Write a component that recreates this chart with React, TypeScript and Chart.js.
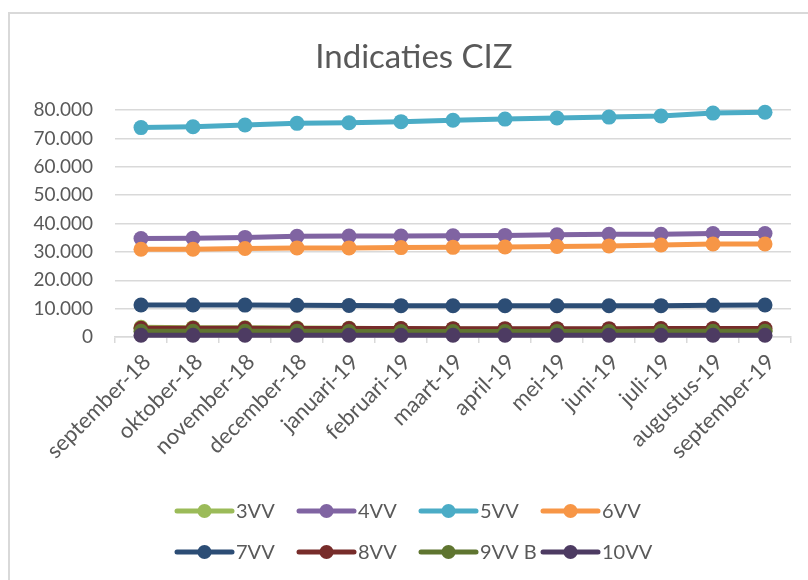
import React, { useEffect, useRef } from "react";
import { Chart, registerables } from "chart.js";

Chart.register(...registerables);

const categories = [
  "september-18", "oktober-18", "november-18", "december-18", "januari-19",
  "februari-19", "maart-19", "april-19", "mei-19", "juni-19", "juli-19",
  "augustus-19", "september-19",
];

const seriesNames = ["3VV", "4VV", "5VV", "6VV", "7VV", "8VV", "9VV B", "10VV"];

const vv3 = [3400, 3300, 3250, 3150, 3050, 2950, 2850, 2750, 2700, 2600, 2550, 2450, 2400];
const vv4 = [34700, 34800, 35100, 35500, 35600, 35600, 35700, 35800, 36000, 36200, 36200, 36500, 36500];
const vv5 = [73800, 74100, 74700, 75300, 75500, 75900, 76400, 76800, 77200, 77500, 77900, 78900, 79200];
const vv6 = [30900, 30900, 31200, 31400, 31400, 31500, 31600, 31700, 31900, 32100, 32400, 32800, 32800];
const vv7 = [11300, 11300, 11250, 11200, 11100, 11050, 11000, 11000, 11000, 11000, 11050, 11200, 11300];
const vv8 = [3100, 3050, 3050, 3000, 3000, 3000, 2950, 2950, 2950, 2950, 3000, 3000, 3000];
const vv9b = [2050, 2000, 2000, 2000, 1950, 1950, 1950, 1950, 1950, 1950, 2000, 2000, 2000];
const vv10 = [600, 600, 600, 600, 600, 600, 600, 600, 600, 600, 600, 600, 600];

const seriesValues = [vv3, vv4, vv5, vv6, vv7, vv8, vv9b, vv10];
const seriesColors = ["#9BBB59", "#8064A2", "#4BACC6", "#F79646", "#2C4D75", "#772C2A", "#5F7530", "#4D3B62"];

const yTicksMax = 80000;
const yTicksStep = 10000;
const titleText = "Indicaties CIZ";

const TEXT = "#595959";
const GRID = "#d9d9d9";
const FONT = "Lato";

function fmt(v: number): string {
  return String(Math.round(v)).replace(/\B(?=(\d{3})+(?!\d))/g, ".");
}

const decorPlugin = {
  id: "decor",
  beforeDraw(chart: any) {
    const ctx = chart.ctx;
    ctx.save();
    ctx.fillStyle = "#ffffff";
    ctx.fillRect(0, 0, chart.width, chart.height);
    ctx.strokeStyle = GRID;
    ctx.lineWidth = 2;
    ctx.strokeRect(9, 13, chart.width + 20, chart.height + 20);
    ctx.restore();
  },
  afterDraw(chart: any) {
    const ctx = chart.ctx;
    ctx.save();
    ctx.fillStyle = TEXT;
    ctx.font = `33px ${FONT}`;
    ctx.textAlign = "center";
    ctx.textBaseline = "middle";
    ctx.fillText(titleText, 414, 57);
    const cols = [177, 299, 421, 543];
    const rows = [511, 552];
    const lineLen = 55;
    chart.data.datasets.forEach((ds: any, i: number) => {
      const x0 = cols[i % 4];
      const y = rows[Math.floor(i / 4)];
      ctx.strokeStyle = ds.borderColor;
      ctx.lineWidth = 5;
      ctx.lineCap = "round";
      ctx.beginPath();
      ctx.moveTo(x0, y);
      ctx.lineTo(x0 + lineLen, y);
      ctx.stroke();
      ctx.fillStyle = ds.borderColor;
      ctx.beginPath();
      ctx.arc(x0 + lineLen / 2, y, 7, 0, Math.PI * 2);
      ctx.fill();
      ctx.fillStyle = TEXT;
      ctx.font = `20px ${FONT}`;
      ctx.textAlign = "left";
      ctx.textBaseline = "middle";
      ctx.fillText(ds.label, x0 + lineLen + 4, y + 1);
    });
    ctx.restore();
  },
};

export default function App() {
  const ref = useRef<HTMLCanvasElement | null>(null);

  useEffect(() => {
    if (!ref.current) return;
    const n = seriesNames.length;
    const chart = new Chart(ref.current, {
      type: "line",
      data: {
        labels: categories,
        datasets: seriesNames.map((name, i) => ({
          label: name,
          data: seriesValues[i],
          borderColor: seriesColors[i],
          backgroundColor: seriesColors[i],
          pointBackgroundColor: seriesColors[i],
          pointBorderColor: seriesColors[i],
          borderWidth: 5,
          pointRadius: 7.5,
          pointBorderWidth: 0,
          pointHoverRadius: 7.5,
          tension: 0,
          fill: false,
          clip: false as any,
          order: n - i,
        })),
      },
      options: {
        animation: false,
        responsive: false,
        devicePixelRatio: 1,
        layout: { padding: { top: 110, right: 17, bottom: 100, left: 0 } },
        plugins: {
          legend: { display: false },
          title: { display: false },
          tooltip: { enabled: false },
        },
        scales: {
          x: {
            type: "category",
            offset: true,
            border: { display: true, color: GRID, width: 1.5 },
            grid: {
              display: true,
              drawOnChartArea: false,
              drawTicks: true,
              tickLength: 6,
              color: GRID,
              lineWidth: 1.5,
              offset: true,
            },
            ticks: {
              color: TEXT,
              font: { family: FONT, size: 22 },
              maxRotation: 45,
              minRotation: 45,
              autoSkip: false,
              padding: 6,
              labelOffset: 6,
            },
            afterFit: (scale: any) => {
              scale.height = 143;
            },
          },
          y: {
            min: 0,
            max: yTicksMax,
            border: { display: false },
            grid: { color: GRID, lineWidth: 1.5, drawTicks: false },
            ticks: {
              stepSize: yTicksStep,
              color: TEXT,
              font: { family: FONT, size: 19 },
              padding: 22,
              callback: (v: any) => fmt(Number(v)),
            },
            afterFit: (scale: any) => {
              scale.width = 115;
            },
          },
        },
      },
      plugins: [decorPlugin],
    });
    return () => chart.destroy();
  }, []);

  return (
    <div style={{ position: "fixed", left: 0, top: 0, width: 808, height: 580, overflow: "hidden", background: "#fff" }}>
      <canvas ref={ref} width={808} height={580} style={{ display: "block", width: 808, height: 580 }} />
    </div>
  );
}
